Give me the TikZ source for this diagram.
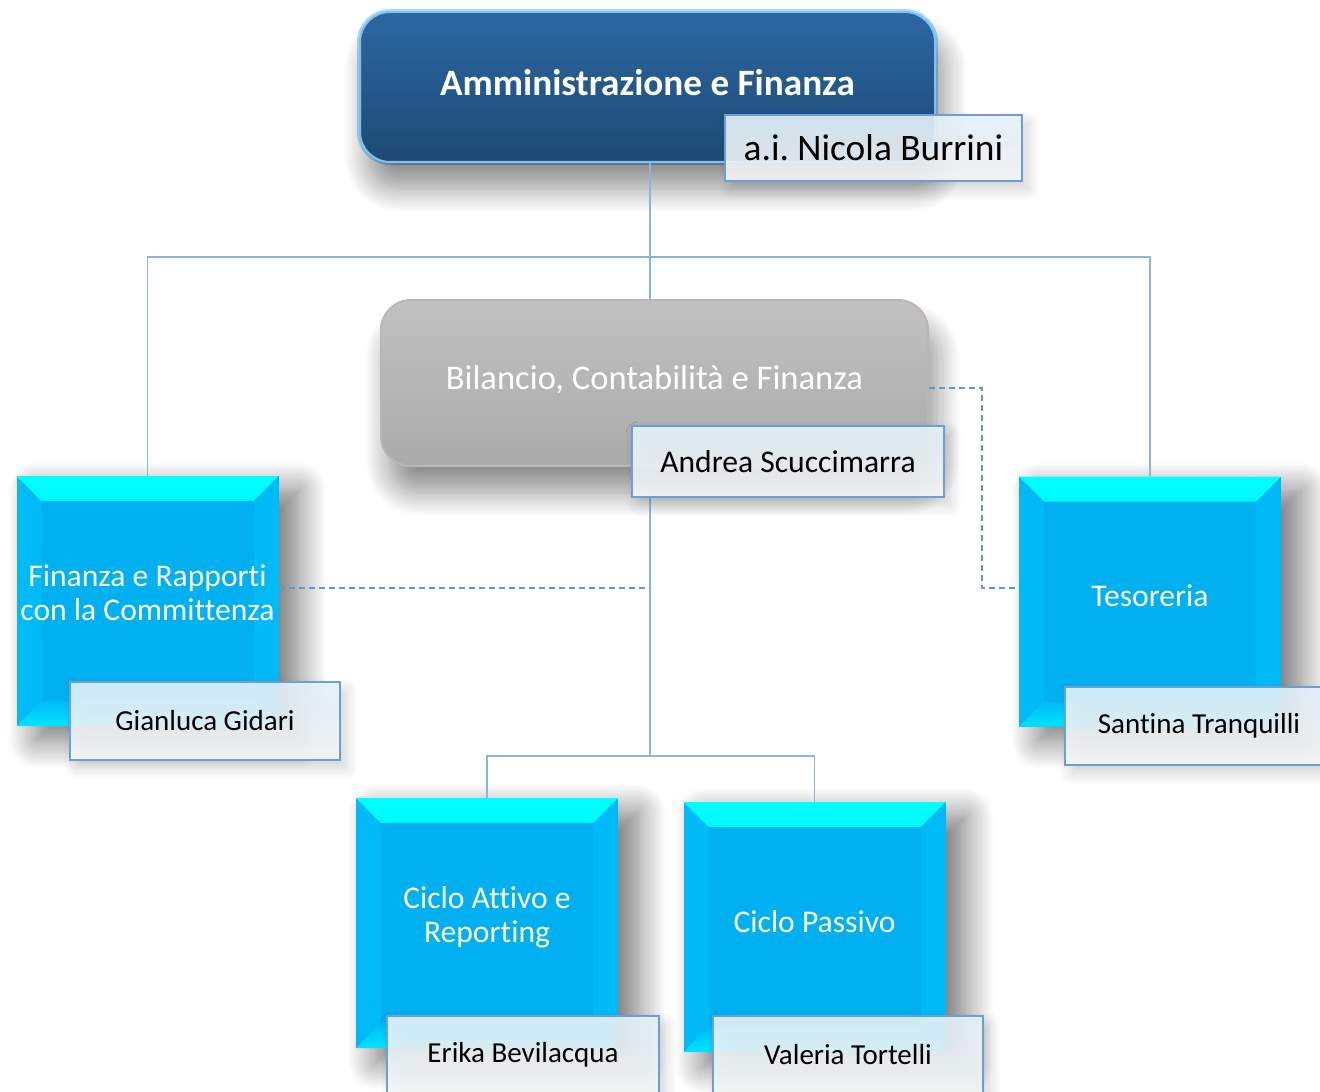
\documentclass[tikz,border=0pt]{standalone}
\usepackage{fontspec}
\setmainfont{Carlito}[Ligatures=NoCommon]
\frenchspacing
\usetikzlibrary{shadows.blur}

\definecolor{admblue}{HTML}{1F4E79}
\definecolor{admtop}{HTML}{2C67A3}
\definecolor{admglow}{HTML}{7CC2F5}
\definecolor{bilgray}{HTML}{A6A6A6}
\definecolor{bilrim}{HTML}{BDB4B4}
\definecolor{cyaninner}{HTML}{00B0F0}
\definecolor{cyanside}{HTML}{00BAF8}
\definecolor{cyantop}{HTML}{00FFFF}
\definecolor{cyanlow}{HTML}{00E4FF}
\definecolor{namerim}{HTML}{6E9ED6}
\definecolor{nametop}{HTML}{E4F3FB}
\definecolor{namelow}{HTML}{F6F6F6}
\definecolor{connblue}{HTML}{8DB3E2}
\definecolor{dashblue}{HTML}{5B9BD5}

\tikzset{
  admbox/.style={rounded corners=15pt, minimum width=287.5pt, minimum height=75pt,
    top color=admtop, middle color=admblue, bottom color=admblue!95!black,
    preaction={draw=admglow, line width=3pt, opacity=.6},
    draw=admglow, line width=1pt, text=white,
    font=\fontsize{18.6}{22}\selectfont\bfseries,
    execute at begin node={\rule{0pt}{15pt}}, execute at end node={\rule[-6pt]{0pt}{6pt}},
    blur shadow={shadow xshift=4pt, shadow yshift=-13pt, shadow blur radius=12pt,
      shadow blur steps=20, shadow opacity=45}},
  bilbox/.style={rounded corners=15pt, minimum width=273.5pt, minimum height=83pt,
    top color=bilgray!70!white, middle color=bilgray, bottom color=bilgray!95!white,
    draw=bilrim, line width=1pt, text=white,
    font=\fontsize{17.3}{20}\selectfont,
    execute at begin node={\rule{0pt}{14pt}}, execute at end node={\rule[-8pt]{0pt}{8pt}},
    blur shadow={shadow xshift=4pt, shadow yshift=-13pt, shadow blur radius=12pt,
      shadow blur steps=20, shadow opacity=45}},
  cyanbox/.style={minimum width=131pt, minimum height=125pt, inner sep=0pt,
    align=center, text=white, font=\fontsize{15.8}{17}\selectfont,
    fill=cyanside,
    execute at begin node={\rule{0pt}{13pt}}, execute at end node={\rule[-8pt]{0pt}{8pt}},
    blur shadow={shadow xshift=10pt, shadow yshift=-7pt, shadow blur radius=14pt,
      shadow blur steps=20, shadow opacity=55},
    path picture={
      \shade[top color=cyantop, bottom color=cyanside]
        (path picture bounding box.north west) -- (path picture bounding box.north east)
        -- ([shift={(-12.5pt,-12.5pt)}]path picture bounding box.north east)
        -- ([shift={(12.5pt,-12.5pt)}]path picture bounding box.north west) -- cycle;
      \shade[top color=cyanside, bottom color=cyanlow]
        (path picture bounding box.south west) -- (path picture bounding box.south east)
        -- ([shift={(-12.5pt,12.5pt)}]path picture bounding box.south east)
        -- ([shift={(12.5pt,12.5pt)}]path picture bounding box.south west) -- cycle;
      \fill[cyaninner] ([shift={(12.5pt,-12.5pt)}]path picture bounding box.north west)
        rectangle ([shift={(-12.5pt,12.5pt)}]path picture bounding box.south east);
    }},
  namebox/.style={minimum height=39pt, top color=nametop, bottom color=namelow,
    draw=namerim, line width=1pt, fill opacity=.9, text opacity=1,
    font=\fontsize{14.5}{16}\selectfont,
    blur shadow={shadow xshift=3pt, shadow yshift=-4pt, shadow blur radius=6pt,
      shadow blur steps=12, shadow opacity=20}},
  conn/.style={draw=connblue, line width=.75pt},
  dashconn/.style={draw=dashblue, line width=.6pt, dash pattern=on 3pt off 2pt}
}

\begin{document}
\begin{tikzpicture}[x=0.5pt,y=-0.5pt]
\useasboundingbox (0,0) rectangle (1320,1091);

% units
\node[admbox] (adm) at (647.5,87) {Amministrazione e Finanza};
\node[bilbox] (bil) at (654.5,383) {Bilancio, Contabilità e Finanza};
\node[cyanbox] (fin) at (147.5,601) {Finanza e Rapporti\\con la Committenza};
\node[cyanbox] (tes) at (1150,601.5) {Tesoreria};
\node[cyanbox] (cat) at (487,923) {Ciclo Attivo e\\Reporting};
\node[cyanbox] (cp) at (814.5,927) {Ciclo Passivo};

\coordinate (hubtop) at (650,257);
\coordinate (hubbil) at (650,756);
\coordinate (finjoin) at (650,588);
\coordinate (tesbend) at (982,388);
\coordinate (tesjoin) at (982,588);

% lines
\draw[conn] (adm.south -| hubtop) -- (hubtop) -- (bil.north -| hubtop);
\draw[conn] (fin.north) -- (fin.north |- hubtop) -- (tes.north |- hubtop) -- (tes.north);
\draw[conn] (bil.south -| hubbil) -- (hubbil);
\draw[conn] (cat.north) -- (cat.north |- hubbil) -- (cp.north |- hubbil) -- (cp.north);
\draw[dashconn] (fin.east |- finjoin) -- (finjoin);
\draw[dashconn] (bil.east |- tesbend) -- (tesbend) -- (tesjoin) -- (tes.west |- tesjoin);

% heads
\node[namebox, minimum width=148.5pt, minimum height=33pt, font=\fontsize{18.7}{20}\selectfont] (nb) at (873.5,148) {a.i. Nicola Burrini};
\node[namebox, minimum width=156pt, minimum height=35.5pt, font=\fontsize{15.8}{17}\selectfont] (as) at (788,461.5) {Andrea Scuccimarra};
\node[namebox, minimum width=135pt] (gg) at (205,721) {Gianluca Gidari};
\node[namebox, minimum width=134pt] (st) at (1199,726) {Santina Tranquilli};
\node[namebox, minimum width=136pt] (eb) at (523,1055) {Erika Bevilacqua};
\node[namebox, minimum width=135pt] (vt) at (848,1055) {Valeria Tortelli};

\end{tikzpicture}
\end{document}
